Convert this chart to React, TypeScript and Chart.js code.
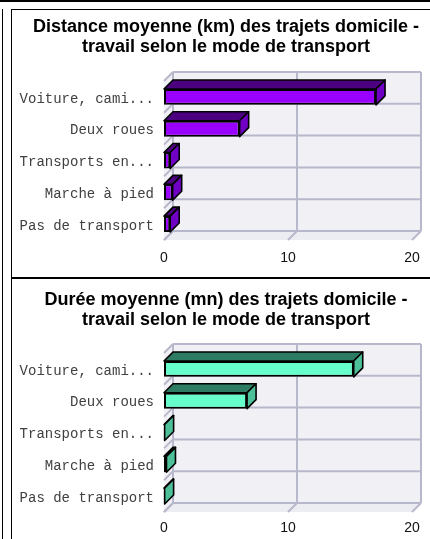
import React, { useEffect, useRef } from "react";
import { Chart, registerables } from "chart.js";

Chart.register(...registerables);

const categories = ["Voiture, cami...", "Deux roues", "Transports en...", "Marche à pied", "Pas de transport"];
const distanceValues = [17.1, 6.1, 0.5, 0.7, 0.5];
const dureeValues = [15.3, 6.7, 0.05, 0.2, 0.05];
const xTicks = [0, 10, 20];
const distanceTitle = ["Distance moyenne (km) des trajets domicile -", "travail selon le mode de transport"];
const dureeTitle = ["Durée moyenne (mn) des trajets domicile -", "travail selon le mode de transport"];

const DX = 9;
const DY = 9;

function poly(ctx: CanvasRenderingContext2D, pts: number[][], fill?: string, stroke?: string, lw = 1.5) {
  ctx.beginPath();
  ctx.moveTo(pts[0][0], pts[0][1]);
  for (let i = 1; i < pts.length; i++) ctx.lineTo(pts[i][0], pts[i][1]);
  ctx.closePath();
  if (fill) {
    ctx.fillStyle = fill;
    ctx.fill();
  }
  if (stroke) {
    ctx.strokeStyle = stroke;
    ctx.lineWidth = lw;
    ctx.lineJoin = "round";
    ctx.stroke();
  }
}

function line(ctx: CanvasRenderingContext2D, x1: number, y1: number, x2: number, y2: number) {
  ctx.beginPath();
  ctx.moveTo(x1, y1);
  ctx.lineTo(x2, y2);
  ctx.stroke();
}

const threeDPlugin = {
  id: "threeD",
  afterLayout(chart: any) {
    const t = chart.titleBlock;
    if (t) {
      t.left = 0;
      t.right = chart.width;
    }
  },
  beforeDatasetsDraw(chart: any, _args: any, opts: any) {
    const ctx: CanvasRenderingContext2D = chart.ctx;
    const { left: L, right: R, top: T, bottom: B } = chart.chartArea;
    const xs = chart.scales.x;
    const ys = chart.scales.y;
    ctx.save();
    poly(ctx, [[L + DX, T - DY], [R + DX, T - DY], [R + DX, B - DY], [L + DX, B - DY]], opts.wall);
    poly(ctx, [[L, T], [L + DX, T - DY], [L + DX, B - DY], [L, B]], opts.wall);
    poly(ctx, [[L, B], [L + DX, B - DY], [R + DX, B - DY], [R, B]], opts.floor);
    ctx.strokeStyle = opts.grid;
    ctx.lineWidth = 2;
    for (const v of xTicks) {
      const px = xs.getPixelForValue(v);
      line(ctx, px + DX, T - DY, px + DX, B - DY);
      line(ctx, px, B, px + DX, B - DY);
    }
    const n = chart.data.labels.length;
    const h = ys.getPixelForValue(1) - ys.getPixelForValue(0);
    for (let i = 0; i <= n; i++) {
      const yy = ys.getPixelForValue(i) - h / 2;
      line(ctx, L + DX, yy - DY, R + DX, yy - DY);
      line(ctx, L, yy, L + DX, yy - DY);
    }
    ctx.restore();
  },
  afterDatasetsDraw(chart: any, _args: any, opts: any) {
    const ctx: CanvasRenderingContext2D = chart.ctx;
    const meta = chart.getDatasetMeta(0);
    ctx.save();
    meta.data.forEach((bar: any) => {
      const { x, y, base, height } = bar.getProps(["x", "y", "base", "height"], true);
      const x0 = Math.min(base, x);
      const x1 = Math.max(base, x);
      const y0 = y - height / 2;
      const y1 = y + height / 2;
      poly(ctx, [[x0, y0], [x0 + DX, y0 - DY], [x1 + DX, y0 - DY], [x1, y0]], opts.top, "#000", 1.6);
      poly(ctx, [[x1, y0], [x1 + DX, y0 - DY], [x1 + DX, y1 - DY], [x1, y1]], opts.side, "#000", 1.6);
    });
    ctx.restore();
  },
};

type Props = {
  title: string[];
  values: number[];
  front: string;
  top: string;
  side: string;
  titlePadTop: number;
  xPad: number;
  height: number;
};

function BarChart3D({ title, values, front, top, side, titlePadTop, xPad, height }: Props) {
  const ref = useRef<HTMLCanvasElement | null>(null);
  useEffect(() => {
    if (!ref.current) return;
    const chart = new Chart(ref.current, {
      type: "bar",
      data: {
        labels: categories,
        datasets: [
          {
            data: values,
            backgroundColor: front,
            borderColor: "#000",
            borderWidth: 2,
            borderSkipped: false,
            categoryPercentage: 1,
            barPercentage: 0.5,
          },
        ],
      },
      options: {
        indexAxis: "y",
        animation: false,
        responsive: false,
        devicePixelRatio: 1,
        layout: { padding: { left: 0, right: 28, top: 0, bottom: 0 } },
        plugins: {
          legend: { display: false },
          tooltip: { enabled: false },
          title: {
            display: true,
            text: title,
            color: "#000",
            font: { family: "'Liberation Sans', Arial, sans-serif", size: 18, weight: "bold", lineHeight: 20 / 18 },
            padding: { top: titlePadTop, bottom: 81 - titlePadTop - 40 },
          },
          threeD: { wall: "#f0f0f5", floor: "#ececf3", grid: "#b8b8cc", top, side },
        } as any,
        scales: {
          x: {
            type: "linear",
            min: 0,
            max: 20,
            afterBuildTicks: (s: any) => {
              s.ticks = xTicks.map((v) => ({ value: v }));
            },
            afterFit: (s: any) => {
              s.height = height - 240;
            },
            grid: { display: false, drawTicks: false },
            border: { display: false },
            ticks: {
              padding: xPad,
              color: "#111",
              font: { family: "'Liberation Sans', Arial, sans-serif", size: 14 },
            },
          },
          y: {
            type: "category",
            afterFit: (s: any) => {
              s.width = 152;
            },
            grid: { display: false, drawTicks: false },
            border: { display: false },
            ticks: {
              padding: 10,
              labelOffset: 2,
              color: "#404040",
              font: { family: "'Liberation Mono', 'Courier New', monospace", size: 14 },
            },
          },
        },
      } as any,
      plugins: [threeDPlugin],
    });
    return () => chart.destroy();
  }, []);
  return <canvas ref={ref} width={428} height={height} style={{ display: "block", width: 428, height }} />;
}

export default function App() {
  const abs = (s: React.CSSProperties): React.CSSProperties => ({ position: "absolute", ...s });
  return (
    <div style={abs({ left: 0, top: 0, width: 430, height: 539, overflow: "hidden", background: "#fff" })}>
      <div style={abs({ left: 12, top: 0 })}>
        <BarChart3D
          title={distanceTitle}
          values={distanceValues}
          front="#9900ff"
          top="#4c0080"
          side="#7000c4"
          titlePadTop={17}
          xPad={10}
          height={270}
        />
      </div>
      <div style={abs({ left: 12, top: 272 })}>
        <BarChart3D
          title={dureeTitle}
          values={dureeValues}
          front="#66ffcc"
          top="#2e7b63"
          side="#4dbf99"
          titlePadTop={18}
          xPad={8}
          height={267}
        />
      </div>
      <div style={abs({ left: 0, top: 0, width: 430, height: 2, background: "#000" })} />
      <div style={abs({ left: 2, top: 9, width: 1, height: 530, background: "#000" })} />
      <div style={abs({ left: 11, top: 9, width: 1, height: 530, background: "#000" })} />
      <div style={abs({ left: 11, top: 9, width: 419, height: 1, background: "#000" })} />
      <div style={abs({ left: 11, top: 277, width: 419, height: 2, background: "#000" })} />
    </div>
  );
}
